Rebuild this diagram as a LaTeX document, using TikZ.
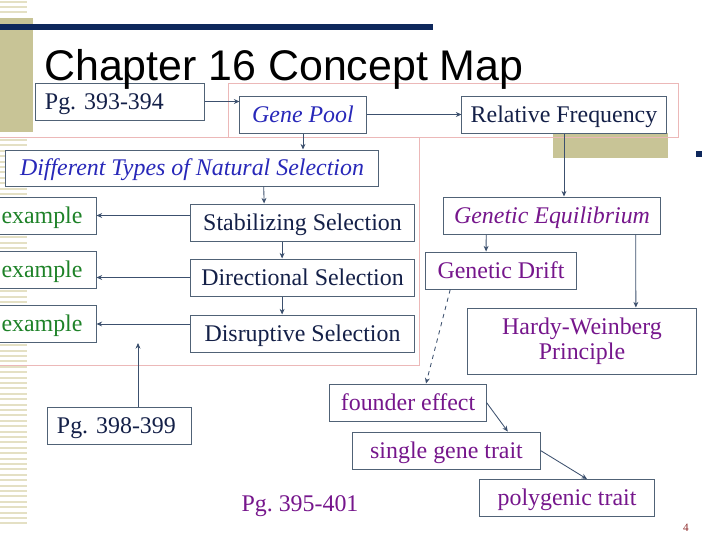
\documentclass[tikz,border=0pt]{standalone}
\usepackage{fontspec}
\setmainfont{Liberation Serif}
\newfontfamily\titlefont{Liberation Sans}
\usetikzlibrary{arrows.meta, positioning}
\definecolor{mapnavy}{RGB}{20, 32, 72}
\definecolor{mapblue}{RGB}{40, 40, 185}
\definecolor{mappurple}{RGB}{118, 22, 140}
\definecolor{mapgreen}{RGB}{30, 130, 40}
\definecolor{mapborder}{RGB}{80, 98, 118}
\definecolor{mapline}{RGB}{60, 80, 110}
\definecolor{mappink}{RGB}{236, 184, 184}
\definecolor{mapolive}{RGB}{200, 196, 150}
\definecolor{mapstripe}{RGB}{228, 224, 196}
\definecolor{mapbar}{RGB}{14, 40, 92}
\definecolor{mapnum}{RGB}{140, 40, 40}
\newcommand\mapfont{\fontsize{17}{18}\selectfont}
\tikzset{
  box/.style={draw=mapborder, fill=white, line width=0.7pt, inner sep=0pt, minimum height=0.925cm,
    text height=12.5pt, text depth=1.5pt, align=center, font=\mapfont, text=mapnavy},
  pgbox/.style={box, text width=#1, align=left, inner xsep=0.225cm},
  bluebox/.style={box, font=\mapfont\itshape, text=mapblue},
  purplebox/.style={box, text=mappurple},
  greenbox/.style={box, text=mapgreen, minimum width=2.7cm},
  arr/.style={-{Stealth[length=4pt, width=3.5pt]}, line width=0.6pt, mapline},
  dasharr/.style={arr, dashed}
}
\begin{document}
\begin{tikzpicture}[x=0.025cm, y=-0.025cm]
  \clip (0,0) rectangle (720,540);
  \fill[white] (0,0) rectangle (720,540);
  % slide background
  \foreach \y in {2,7,12}
    \draw[mapstripe, line width=1.4pt] (0,\y) -- (27,\y);
  \foreach \y in {140,145.4,...,524}
    \draw[mapstripe, line width=1.4pt] (0,\y) -- (27,\y);
  \fill[mapolive] (0,18) rectangle (33,132);
  \fill[mapbar] (0,24) rectangle (433,30);
  \fill[mapolive] (553,133) rectangle (668,158);
  \fill[mapbar] (696,151) rectangle (702,157);
  \draw[mappink, line width=0.5pt] (0,137) -- (678,137) -- (678,83) -- (228,83) -- (228,137)
    (419,137) -- (419,365) -- (0,365);

  % concept boxes
  \node[pgbox=3.75cm] (pg1) at (120,101.5) {Pg.\ 393-394};
  \node[bluebox, minimum width=3.15cm] (gene) at (303,114.5) {Gene Pool};
  \node[box, minimum width=5.1cm] (relf) at (564,114.5) {Relative Frequency};
  \node[bluebox, minimum width=9.3cm, minimum height=0.9cm] (types) at (192,168) {Different Types of Natural Selection};
  \node[box, minimum width=5.575cm] (stab) at (302.5,222.5) {Stabilizing Selection};
  \node[box, minimum width=5.575cm, below=0.425cm of stab] (dir) {Directional Selection};
  \node[box, minimum width=5.575cm, below=0.45cm of dir] (disr) {Disruptive Selection};
  \node[greenbox] (ex1) at (42,215.5) {example};
  \node[greenbox] (ex2) at (42,270) {example};
  \node[greenbox] (ex3) at (42,324) {example};
  \node[pgbox=3.125cm] (pg2) at (119.5,425.5) {Pg.\ 398-399};
  \coordinate (pgtip) at (138,343);
  \node[purplebox, font=\mapfont\itshape, minimum width=5.4cm] (geneq) at (552,215.5) {Genetic Equilibrium};
  \node[purplebox, minimum width=3.75cm] (drift) at (501,270.5) {Genetic Drift};
  \node[purplebox, text height={}, text depth={}, minimum width=5.7cm, minimum height=1.65cm] (hw) at (582,341) {Hardy-Weinberg\\Principle};
  \node[purplebox, minimum width=3.9cm] (founder) at (408,402.5) {founder effect};
  \node[purplebox, minimum width=4.675cm] (single) at (446.5,450.5) {single gene trait};
  \node[purplebox, minimum width=4.35cm] (poly) at (567,498) {polygenic trait};
  \node[text=mappurple, font=\mapfont] (pgref) at (300,506) {Pg.\ 395-401};
  \node[text=mapnum, font=\footnotesize] (pagenum) at (686,528) {4};

  % connectors
  \draw[arr] (pg1.east) -- (pg1.east -| gene.west);
  \draw[arr] (gene) -- (relf);
  \draw[arr] (gene) -- (gene |- types.north);
  \draw[arr] ([xshift=51pt]types.south) -- ([xshift=-27.3pt]stab.north);
  \draw[arr] ([xshift=-14.5pt]stab.south) -- ([xshift=-14.5pt]dir.north);
  \draw[arr] ([xshift=-14.5pt]dir.south) -- ([xshift=-14.5pt]disr.north);
  \draw[arr] (stab.west |- ex1.east) -- (ex1.east);
  \draw[arr] (dir.west) -- (dir.west -| ex2.east);
  \draw[arr] (disr.west |- ex3.east) -- (ex3.east);
  \draw[arr] (pg2.north -| pgtip) -- (pgtip);
  \draw[arr] (relf) -- (relf |- geneq.north);
  \draw[arr] ([xshift=-46.8pt]geneq.south) -- ([xshift=-10.6pt]drift.north);
  \draw[arr] ([xshift=59.5pt]geneq.south) -- ([xshift=38.3pt]hw.north);
  \draw[dasharr] ([xshift=-36.1pt]drift.south) -- ([xshift=12.8pt]founder.north);
  \draw[arr] (founder.east) -- ([xshift=43.6pt]single.north);
  \draw[arr] (single.east) -- ([xshift=14.2pt]poly.north);

  % title
  \node[anchor=base west, inner sep=0pt, font=\titlefont\fontsize{30.5}{36}\selectfont] (title) at (44,80) {Chapter 16 Concept Map};
\end{tikzpicture}
\end{document}
